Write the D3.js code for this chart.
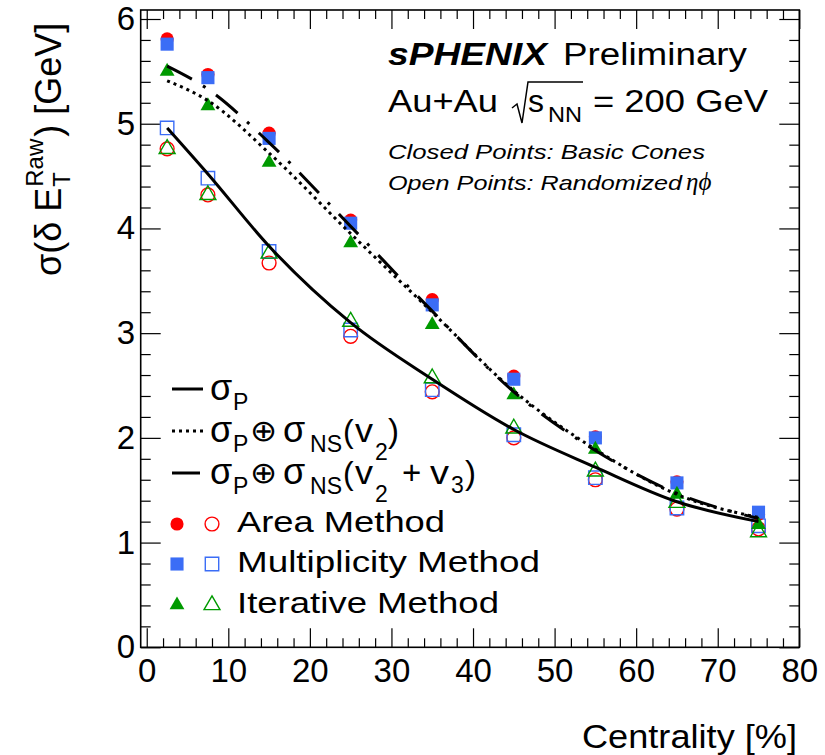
<!DOCTYPE html>
<html><head><meta charset="utf-8">
<script src="https://cdn.jsdelivr.net/npm/d3@7"></script>
<style>
body{margin:0;background:#fff}
text{font-family:"Liberation Sans",Arial,Helvetica,sans-serif;fill:#000}
</style></head>
<body><svg id="c" width="825" height="755"></svg>
<script>
// ---- data ----
const centrality = [2.5, 7.5, 15, 25, 35, 45, 55, 65, 75];
const areaBasic  = [5.81, 5.47, 4.91, 4.08, 3.32, 2.59, 2.01, 1.58, 1.27];
const multBasic  = [5.76, 5.44, 4.86, 4.05, 3.27, 2.56, 2.00, 1.57, 1.29];
const iterBasic  = [5.50, 5.17, 4.63, 3.86, 3.08, 2.41, 1.89, 1.46, 1.17];
const areaRandom = [4.76, 4.32, 3.67, 2.97, 2.44, 2.00, 1.60, 1.32, 1.13];
const multRandom = [4.96, 4.48, 3.78, 3.03, 2.46, 2.03, 1.62, 1.33, 1.16];
const iterRandom = [4.76, 4.32, 3.76, 3.11, 2.57, 2.09, 1.68, 1.38, 1.10];
const sigmaP     = [4.96, 4.52, 3.83, 3.10, 2.56, 2.08, 1.72, 1.39, 1.20];
const sigmaPv2   = [5.41, 5.22, 4.72, 3.95, 3.20, 2.45, 1.89, 1.46, 1.24];
const sigmaPv23  = [5.55, 5.33, 4.82, 4.02, 3.21, 2.44, 1.88, 1.47, 1.23];
const xTicks = [0, 10, 20, 30, 40, 50, 60, 70, 80];
const yTicks = [0, 1, 2, 3, 4, 5, 6];
const methods = ["Area Method", "Multiplicity Method", "Iterative Method"];

// ---- layout ----
const L = 140.7, R = 799.3, T = 10, B = 647.3;
const svg = d3.select("#c");
svg.append("rect").attr("width",825).attr("height",755).attr("fill","#fff");
const x = d3.scaleLinear().domain([-0.74, 80]).range([L, R]);
const y = d3.scaleLinear().domain([0, 6.086]).range([B, T]);

const RED = "#ff0000", BLUE = "#3b6df6", GREEN = "#009a00";
const FONT = '"Liberation Sans",Arial,Helvetica,sans-serif';

// ---- axes (ticks inside, all four sides) ----
const xMinor = d3.range(0, 81, 2).filter(v => v % 10 !== 0);
const yMinor = d3.range(0, 61, 2).map(v => v / 10).filter(v => Math.abs(v - Math.round(v)) > 1e-6);

function styleAxis(g){ g.select(".domain").remove(); g.selectAll("line").attr("stroke","#000").attr("stroke-width",1.2); g.attr("font-family",FONT); }

svg.append("g").attr("transform",`translate(0,${B})`)
  .call(d3.axisBottom(x).tickValues(xTicks).tickSizeInner(-19).tickSizeOuter(0).tickPadding(11.6).tickFormat(d3.format("d")))
  .call(styleAxis).attr("font-size",33);
svg.append("g").attr("transform",`translate(0,${B})`)
  .call(d3.axisBottom(x).tickValues(xMinor).tickSizeInner(-9).tickSizeOuter(0).tickFormat(""))
  .call(styleAxis);
svg.append("g").attr("transform",`translate(0,${T})`)
  .call(d3.axisTop(x).tickValues(xTicks).tickSizeInner(-19).tickSizeOuter(0).tickFormat(""))
  .call(styleAxis);
svg.append("g").attr("transform",`translate(0,${T})`)
  .call(d3.axisTop(x).tickValues(xMinor).tickSizeInner(-9).tickSizeOuter(0).tickFormat(""))
  .call(styleAxis);
svg.append("g").attr("transform",`translate(${L},0)`)
  .call(d3.axisLeft(y).tickValues(yTicks).tickSizeInner(-20).tickSizeOuter(0).tickPadding(5.7).tickFormat(d3.format("d")))
  .call(styleAxis).attr("font-size",33);
svg.append("g").attr("transform",`translate(${L},0)`)
  .call(d3.axisLeft(y).tickValues(yMinor).tickSizeInner(-10).tickSizeOuter(0).tickFormat(""))
  .call(styleAxis);
svg.append("g").attr("transform",`translate(${R},0)`)
  .call(d3.axisRight(y).tickValues(yTicks).tickSizeInner(-20).tickSizeOuter(0).tickFormat(""))
  .call(styleAxis);
svg.append("g").attr("transform",`translate(${R},0)`)
  .call(d3.axisRight(y).tickValues(yMinor).tickSizeInner(-10).tickSizeOuter(0).tickFormat(""))
  .call(styleAxis);
svg.selectAll(".tick text").attr("fill","#000");

svg.append("rect").attr("x",L).attr("y",T).attr("width",R-L).attr("height",B-T)
  .attr("fill","none").attr("stroke","#000").attr("stroke-width",1.6);

// ---- markers ----
const sym = {
  circle: d3.symbol().type(d3.symbolCircle).size(135),
  square: d3.symbol().type(d3.symbolSquare).size(172),
  triangle: d3.symbol().type(d3.symbolTriangle).size(95),
  ocircle: d3.symbol().type(d3.symbolCircle).size(150),
  osquare: d3.symbol().type(d3.symbolSquare).size(180),
  otriangle: d3.symbol().type(d3.symbolTriangle).size(110)
};
function pts(vals, gen, color, open){
  svg.append("g").selectAll("path").data(vals).join("path")
    .attr("transform",(d,i)=>`translate(${x(centrality[i])},${y(d)})`)
    .attr("d",gen())
    .attr("fill",open?"none":color)
    .attr("stroke",open?color:"none")
    .attr("stroke-width",1.4);
}
pts(areaRandom, sym.ocircle, RED, true);
pts(multRandom, sym.osquare, BLUE, true);
pts(iterRandom, sym.otriangle, GREEN, true);
pts(areaBasic, sym.circle, RED, false);
pts(multBasic, sym.square, BLUE, false);
pts(iterBasic, sym.triangle, GREEN, false);

// ---- curves ----
const line = d3.line().x((d,i)=>x(centrality[i])).y(d=>y(d)).curve(d3.curveMonotoneX);
const DOT = "3,4", DASHDOT = "28,13,3,13";
svg.append("path").attr("d",line(sigmaP)).attr("fill","none").attr("stroke","#000").attr("stroke-width",3);
svg.append("path").attr("d",line(sigmaPv2)).attr("fill","none").attr("stroke","#000").attr("stroke-width",3).attr("stroke-dasharray",DOT);
svg.append("path").attr("d",line(sigmaPv23)).attr("fill","none").attr("stroke","#000").attr("stroke-width",3).attr("stroke-dasharray",DASHDOT);

// ---- text helpers ----
function txt(px, py, s, o={}){
  const t = svg.append("text").attr("x",px).attr("y",py).text(s)
    .attr("font-size",o.size||33);
  if(o.family) t.style("font-family",o.family);
  if(o.style) t.attr("font-style",o.style);
  if(o.weight) t.attr("font-weight",o.weight);
  if(o.anchor) t.attr("text-anchor",o.anchor);
  if(o.len) t.attr("textLength",o.len).attr("lengthAdjust","spacingAndGlyphs");
  return t;
}

// axis titles
txt(797, 748, "Centrality [%]", {size:33, anchor:"end", len:215});
{
  const g = svg.append("g").attr("transform","translate(61,276) rotate(-90)");
  const a = g.append("text").attr("x",0).attr("y",0).attr("font-size",36).text("σ(δ E");
  const w = a.node().getComputedTextLength();
  g.append("text").attr("x",w+1).attr("y",9).attr("font-size",24).text("T");
  const r = g.append("text").attr("x",w+1).attr("y",-18).attr("font-size",24).text("Raw");
  const rw = r.node().getComputedTextLength();
  g.append("text").attr("x",w+rw+3).attr("y",0).attr("font-size",36).text(") [GeV]");
}

// header texts
txt(388, 65, "sPHENIX", {size:31, style:"italic", weight:"bold", len:159});
txt(563, 65, "Preliminary", {size:31, len:184});
txt(388, 112, "Au+Au", {size:32, len:110});
svg.append("path").attr("d","M512,108 L517,104 L522,123 L528,82 L583,82")
  .attr("fill","none").attr("stroke","#000").attr("stroke-width",1.5);
txt(528, 112, "s", {size:32});
txt(548, 122, "NN", {size:22, len:34});
txt(593, 112, "= 200 GeV", {size:32, len:175});
txt(388, 159, "Closed Points: Basic Cones", {size:21, style:"italic", len:317});
txt(388, 190, "Open Points: Randomized", {size:21, style:"italic", len:294});
txt(686, 190, "ηϕ", {size:25, style:"italic", family:'"Liberation Serif","DejaVu Serif",serif'});

// ---- legend ----
const lg = svg.append("g");
lg.append("line").attr("x1",172).attr("x2",203).attr("y1",389).attr("y2",389).attr("stroke","#000").attr("stroke-width",3);
lg.append("line").attr("x1",172).attr("x2",203).attr("y1",431).attr("y2",431).attr("stroke","#000").attr("stroke-width",3).attr("stroke-dasharray",DOT);
lg.append("line").attr("x1",172).attr("x2",203).attr("y1",473).attr("y2",473).attr("stroke","#000").attr("stroke-width",3).attr("stroke-dasharray",DASHDOT);

// row 1
txt(210, 400, "σ", {size:36});
txt(233, 410, "P", {size:23});
// row 2 & 3
[[442, false],[484, true]].forEach(([b, v3])=>{
  txt(210, b, "σ", {size:36});
  txt(233, b+10, "P", {size:23});
  txt(250, b-1, "⊕", {size:30, len:27});
  txt(283, b, "σ", {size:36});
  txt(310, b+10, "NS", {size:23, len:32});
  txt(343, b, "(", {size:32});
  txt(355, b, "v", {size:34, len:18});
  txt(375, b+18, "2", {size:23});
  if(!v3){
    txt(388, b, ")", {size:33});
  } else {
    txt(402, b, "+", {size:33});
    txt(430, b, "v", {size:34, len:19});
    txt(451, b+9, "3", {size:23});
    txt(465, b, ")", {size:33});
  }
});
const legendRows = [
  {y:524, fill:sym.circle, open:sym.ocircle, c:RED},
  {y:564, fill:sym.square, open:sym.osquare, c:BLUE},
  {y:605, fill:sym.triangle, open:sym.otriangle, c:GREEN}
];
const methodLen = [208, 303, 262];
legendRows.forEach((r,i)=>{
  lg.append("path").attr("transform",`translate(177,${r.y})`).attr("d",r.fill()).attr("fill",r.c);
  lg.append("path").attr("transform",`translate(212,${r.y})`).attr("d",r.open()).attr("fill","none").attr("stroke",r.c).attr("stroke-width",1.4);
  txt(237, r.y+8, methods[i], {size:30, len:methodLen[i]});
});
</script></body></html>
